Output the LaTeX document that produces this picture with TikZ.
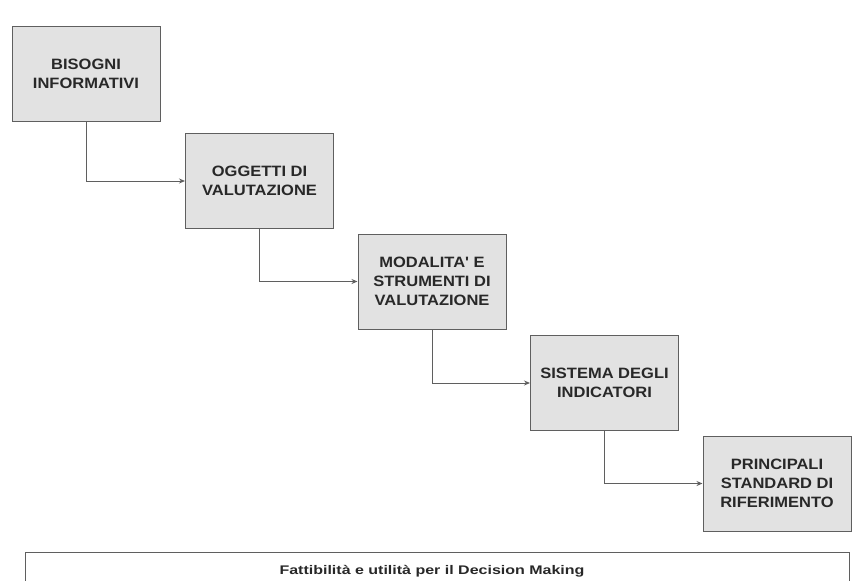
\documentclass[tikz,border=0pt]{standalone}
\usepackage{fontspec}
\setmainfont{Liberation Sans}
\newfontfamily\boxfont[FakeStretch=1.1]{Liberation Sans}
\newfontfamily\basefont[FakeStretch=1.28]{Liberation Sans}
\usepackage{tikz}
\usepackage{xcolor}
\usetikzlibrary{shapes.geometric, arrows, arrows.meta, positioning}
\definecolor{boxfill}{RGB}{226,226,226}
\definecolor{boxline}{RGB}{95,95,95}
\definecolor{boxtext}{RGB}{40,40,40}
\tikzstyle{stage} = [rectangle,
minimum width=148pt,
minimum height=95pt, text centered, align=center,
fill=boxfill, draw=boxline, line width=1pt,
text=boxtext, font=\boxfont\bfseries\fontsize{15}{19}\selectfont]
\tikzstyle{arrow} = [line width=0.9pt, draw=boxline, -{Stealth[length=6pt,width=5pt]}]

\begin{document}
\begin{tikzpicture}[x=1pt, y=-1pt]
        \useasboundingbox (0,0) rectangle (855,581);
        \clip (0,0) rectangle (855,581);
        % Fasi
        \node[stage] (bisogni) at (86,73.5) {BISOGNI\\INFORMATIVI};
        \node[stage] (oggetti) at (259.5,181) {OGGETTI DI\\VALUTAZIONE};
        \node[stage] (modalita) at (432,281.5) {MODALITA' E\\STRUMENTI DI\\VALUTAZIONE};
        \node[stage] (sistema) at (604.5,383) {SISTEMA DEGLI\\INDICATORI};
        \node[stage] (standard) at (777,483.5) {PRINCIPALI\\STANDARD DI\\RIFERIMENTO};
        
        % Collegamenti
        \draw[arrow] (bisogni.south) |- (oggetti.west);
        \draw[arrow] (oggetti.south) |- (modalita.west);
        \draw[arrow] (modalita.south) |- (sistema.west);
        \draw[arrow] (sistema.south) |- (standard.west);
        
        % Riquadro in basso (tagliato)
        \node[draw=boxline, line width=1pt, minimum width=824pt, minimum height=60pt, anchor=north west] (base) at (25,552) {};
        \node[text=boxtext, font=\basefont\bfseries\fontsize{12.5}{15}\selectfont] (fattibilita) at (432,571) {Fattibilità e utilità per il Decision Making};
        
    \end{tikzpicture}
\end{document}
